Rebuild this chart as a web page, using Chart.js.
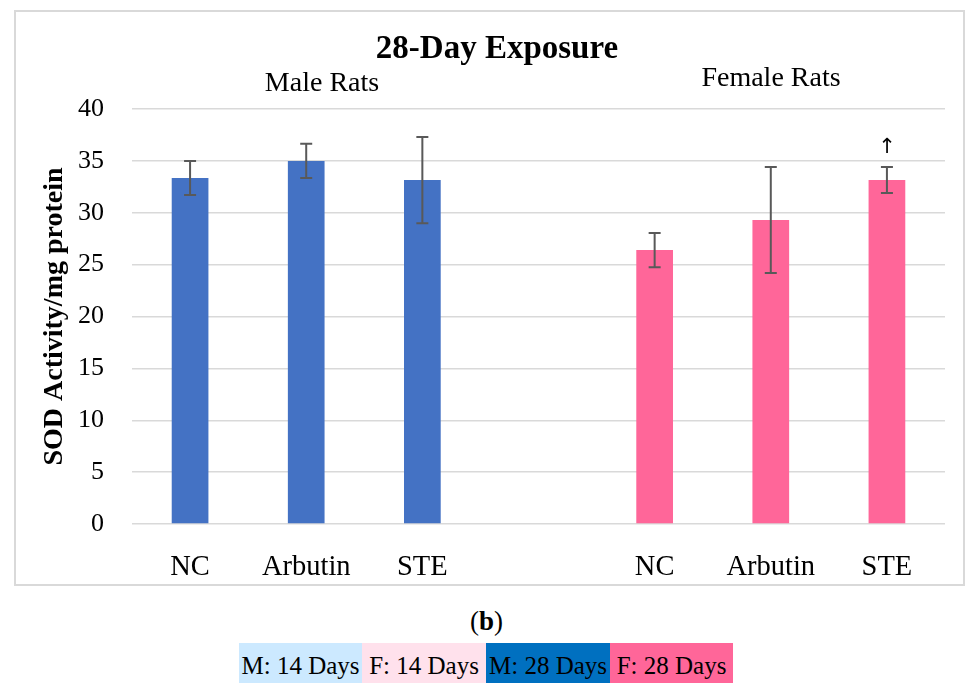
<!DOCTYPE html>
<html>
<head>
<meta charset="utf-8">
<script src="https://cdn.jsdelivr.net/npm/chart.js@4.4.1/dist/chart.umd.min.js"></script>
<style>
  html, body { margin: 0; padding: 0; background: #fff; width: 973px; height: 684px; overflow: hidden; font-family: "Liberation Serif", serif; }
  #box { position: absolute; left: 14px; top: 10px; width: 947px; height: 572px; border: 2px solid #d9d9d9; }
  #wrap { position: absolute; left: 0; top: 0; width: 947px; height: 572px; }
  #cap { position: absolute; left: 0; width: 973px; top: 606px; text-align: center; font-size: 27px; color: #000; }
  .leg { position: absolute; top: 643px; height: 40px; line-height: 46px; font-size: 25px; color: #000; text-align: center; white-space: nowrap; overflow: hidden; }
</style>
</head>
<body>
<div id="box"><div id="wrap"><canvas id="c"></canvas></div></div>
<div id="cap">(<b>b</b>)</div>
<div class="leg" style="left:239px;width:123px;background:#cce9ff;">M: 14 Days</div>
<div class="leg" style="left:362px;width:124px;background:#ffe1ec;">F: 14 Days</div>
<div class="leg" style="left:486px;width:124px;background:#0070c0;">M: 28 Days</div>
<div class="leg" style="left:610px;width:123px;background:#ff6699;">F: 28 Days</div>
<script>
const categories = ['NC', 'Arbutin', 'STE', '', 'NC', 'Arbutin', 'STE'];
const sodMeans   = [33.35, 35.0, 33.15, null, 26.4, 29.3, 33.15];
const sodErrors  = [1.65, 1.65, 4.15, null, 1.65, 5.1, 1.25];
const barColors  = ['#4472c4', '#4472c4', '#4472c4', '#4472c4', '#ff6699', '#ff6699', '#ff6699'];
const yTicks     = [0, 5, 10, 15, 20, 25, 30, 35, 40];
const chartTitle = '28-Day Exposure';
const groupLabels = ['Male Rats', 'Female Rats'];
const markedIndex = 6; // arrow marker

const FONT = '"Liberation Serif", "Times New Roman", serif';

const overlay = {
  id: 'overlay',
  afterDatasetsDraw(chart) {
    const ctx = chart.ctx;
    const x = chart.scales.x, y = chart.scales.y;
    ctx.save();
    // error bars
    ctx.strokeStyle = '#595959';
    ctx.lineWidth = 2;
    sodMeans.forEach((m, i) => {
      if (m == null) return;
      const e = sodErrors[i];
      const px = x.getPixelForValue(i);
      const top = y.getPixelForValue(m + e);
      const bot = y.getPixelForValue(m - e);
      ctx.beginPath();
      ctx.moveTo(px, top); ctx.lineTo(px, bot);
      ctx.moveTo(px - 6, top); ctx.lineTo(px + 6, top);
      ctx.moveTo(px - 6, bot); ctx.lineTo(px + 6, bot);
      ctx.stroke();
    });
    // arrow marker
    const mx = x.getPixelForValue(markedIndex);
    const my = y.getPixelForValue(sodMeans[markedIndex] + sodErrors[markedIndex]);
    ctx.fillStyle = '#000';
    ctx.font = '21px "DejaVu Sans", sans-serif';
    ctx.textAlign = 'center';
    ctx.textBaseline = 'bottom';
    ctx.fillText('\u2191', mx, my - 9);
    // title and group labels
    ctx.textBaseline = 'middle';
    ctx.font = 'bold 33px ' + FONT;
    ctx.fillText(chartTitle, 481, 37);
    ctx.font = '28px ' + FONT;
    ctx.fillText(groupLabels[0], 306, 72);
    ctx.fillText(groupLabels[1], 755, 67);
    ctx.restore();
  }
};

new Chart(document.getElementById('c'), {
  type: 'bar',
  data: {
    labels: categories,
    datasets: [{
      data: sodMeans,
      backgroundColor: barColors,
      borderWidth: 0,
      categoryPercentage: 1,
      barPercentage: 0.316
    }]
  },
  options: {
    responsive: true,
    maintainAspectRatio: false,
    animation: false,
    layout: { padding: { left: 0, right: 18, top: 97, bottom: 0 } },
    plugins: { legend: { display: false }, tooltip: { enabled: false }, title: { display: false } },
    scales: {
      x: {
        grid: { display: false, drawTicks: false },
        border: { display: false },
        ticks: { color: '#000', font: { family: FONT, size: 28.5 }, padding: 26, maxRotation: 0, autoSkip: false },
        afterFit(s) { s.height = 60; }
      },
      y: {
        min: 0, max: 40,
        afterBuildTicks(s) { s.ticks = yTicks.map(v => ({ value: v })); },
        grid: { color: '#d9d9d9', lineWidth: 1.5, drawTicks: false },
        border: { display: false },
        ticks: { color: '#000', font: { family: FONT, size: 26 }, padding: 28 },
        title: { display: true, text: 'SOD Activity/mg protein', color: '#000', font: { family: FONT, size: 28, weight: 'bold' }, padding: { top: 22, bottom: 0 } },
        afterFit(s) { s.width = 116; }
      }
    }
  },
  plugins: [overlay]
});
</script>
</body>
</html>
